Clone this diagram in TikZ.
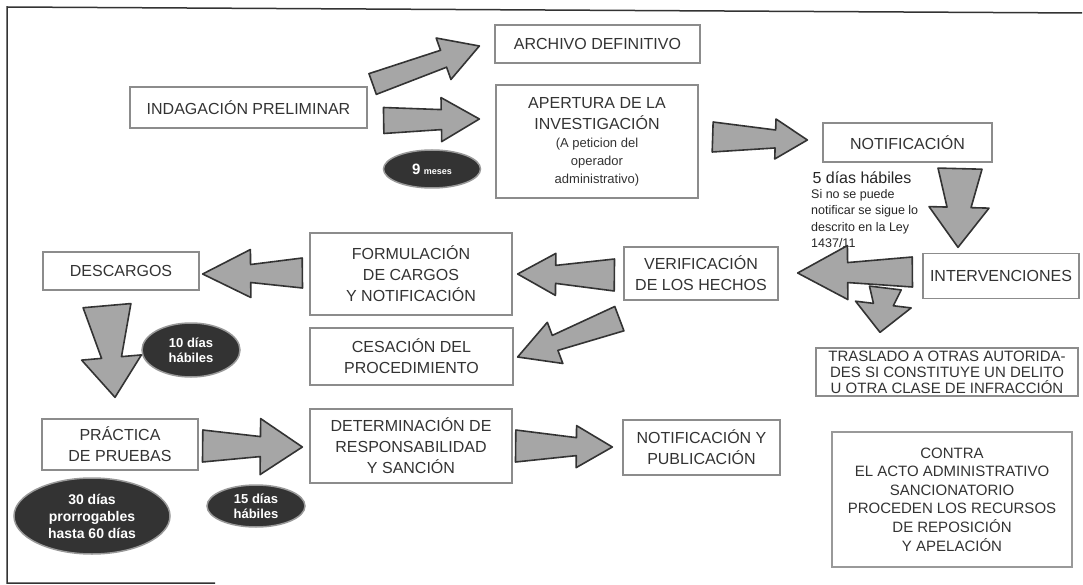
\documentclass[tikz,border=0pt]{standalone}
\usepackage{fontspec}
\setmainfont{Liberation Sans}
\usetikzlibrary{calc,shapes.geometric}

\tikzset{
  caja/.style={draw=black!45, line width=1.3pt, fill=white, align=center,
    text=black!80, font=\fontsize{16}{21}\selectfont, inner sep=0pt},
  ovalo/.style={ellipse, draw=black!40, line width=1.5pt, fill=black!80,
    text=white, font=\bfseries\fontsize{13}{15}\selectfont, align=center, inner sep=0pt},
  flecha/.style={fill=black!35, draw=black!80, line width=1.6pt, line join=round},
}

\newcommand{\bloque}[6]{%
  \coordinate (hb) at ($(#2)!#6!(#1)$);
  \filldraw[flecha] ($(#1)!#3!90:(#2)$) -- ($(hb)!#4!-90:(#1)$) -- ($(hb)!#5!-90:(#1)$)
    -- (#2) -- ($(hb)!#5!90:(#1)$) -- ($(hb)!#4!90:(#1)$) -- ($(#1)!#3!-90:(#2)$) -- cycle;
}

\begin{document}
\begin{tikzpicture}[x=1pt,y=-1pt]
  \useasboundingbox (0,0) rectangle (1083,585);
  \draw[black!80, line width=1.5pt] (1082,13) -- (7,7) -- (7,583) -- (215,583);

  \node[caja, minimum width=237pt, minimum height=41pt] (indag) at (248.5,107.5) {INDAGACIÓN PRELIMINAR};
  \node[caja, minimum width=205pt, minimum height=38pt] (archivo) at (597.5,44) {ARCHIVO DEFINITIVO};
  \node[caja, minimum width=202pt, minimum height=113pt] (apertura) at (597,141.5)
    {APERTURA DE LA\\INVESTIGACIÓN\\[-3pt]
     {\fontsize{13}{17}\selectfont (A peticion del}\\[-3pt]
     {\fontsize{13}{17}\selectfont operador}\\[-3pt]
     {\fontsize{13}{17}\selectfont administrativo)}};
  \node[caja, minimum width=169pt, minimum height=39pt] (notif) at (907.5,142.5) {NOTIFICACIÓN};
  \node[caja, minimum width=156pt, minimum height=45pt] (interv) at (1001,276) {INTERVENCIONES};
  \node[caja, minimum width=154pt, minimum height=53pt] (verif) at (701,273.5) {VERIFICACIÓN\\DE LOS HECHOS};
  \node[caja, minimum width=202pt, minimum height=82pt] (formul) at (411,274) {FORMULACIÓN\\DE CARGOS\\Y NOTIFICACIÓN};
  \node[caja, minimum width=203pt, minimum height=57pt] (cesac) at (411.5,356.5) {CESACIÓN DEL\\PROCEDIMIENTO};
  \node[caja, minimum width=156pt, minimum height=38pt] (descargos) at (121,271) {DESCARGOS};
  \node[caja, minimum width=156pt, minimum height=51pt] (practica) at (120,444.5) {PRÁCTICA\\DE PRUEBAS};
  \node[caja, minimum width=202pt, minimum height=74pt] (determ) at (411,446) {DETERMINACIÓN DE\\RESPONSABILIDAD\\Y SANCIÓN};
  \node[caja, minimum width=157pt, minimum height=55pt] (notifpub) at (701.5,447.5) {NOTIFICACIÓN Y\\PUBLICACIÓN};
  \node[caja, minimum width=262pt, minimum height=48pt, font=\fontsize{15}{16}\selectfont] (traslado) at (947,372)
    {TRASLADO A OTRAS AUTORIDA-\\DES SI CONSTITUYE UN DELITO\\U OTRA CLASE DE INFRACCIÓN};
  \node[caja, minimum width=240pt, minimum height=135pt, line width=2.6pt, draw=black!40,
    font=\fontsize{15}{18.6}\selectfont] (contra) at (952,499.5)
    {CONTRA\\EL ACTO ADMINISTRATIVO\\SANCIONATORIO\\PROCEDEN LOS RECURSOS\\DE REPOSICIÓN\\Y APELACIÓN};

  \node[anchor=west, text=black!85, font=\fontsize{16}{18}\selectfont] (plazo) at (809,178) {5 días hábiles};
  \node[anchor=north west, align=left, text=black!85, inner sep=0pt,
    font=\fontsize{12.5}{16.5}\selectfont] (nota) at (811,189)
    {Si no se puede\\notificar se sigue lo\\descrito en la Ley\\1437/11};

  \node[ovalo, minimum width=97pt, minimum height=38pt] (meses) at (432,169)
    {{\fontsize{15}{15}\selectfont 9} {\fontsize{9}{9}\selectfont meses}};
  \node[ovalo, minimum width=98pt, minimum height=54pt] (diez) at (191,350) {10 días\\hábiles};
  \node[ovalo, minimum width=156pt, minimum height=76pt, font=\bfseries\fontsize{14}{17}\selectfont] (treinta) at (92,516)
    {30 días\\prorrogables\\hasta 60 días};
  \node[ovalo, minimum width=98pt, minimum height=42pt] (quince) at (256,506) {15 días\\hábiles};

  \coordinate (a1s) at ($(indag.east)+(5,-23.5)$);
  \coordinate (a1e) at ($(archivo.west)+(-15,2)$);
  \coordinate (a2s) at ($(indag.east)+(16,13)$);
  \coordinate (a2e) at ($(apertura.west)+(-16,-22.5)$);
  \coordinate (a3s) at ($(apertura.east)+(14,-4.5)$);
  \coordinate (a3e) at ($(notif.west)+(-15,-2.5)$);
  \coordinate (a4s) at ($(notif.south)+(52.5,6)$);
  \coordinate (a4e) at ($(interv.north)+(-43,-5.5)$);
  \coordinate (a5s) at ($(interv.west)+(-10,-4)$);
  \coordinate (a5e) at ($(verif.east)+(19,-0.5)$);
  \coordinate (a6s) at ($(interv.west)+(-37,12)$);
  \coordinate (a6e) at ($(traslado.north)+(-67,-15)$);
  \coordinate (a7s) at ($(verif.west)+(-9,1.5)$);
  \coordinate (a7e) at ($(formul.east)+(5,0)$);
  \coordinate (a8s) at ($(verif.south west)+(-4,18)$);
  \coordinate (a8e) at ($(cesac.east)+(4,0.5)$);
  \coordinate (a9s) at ($(formul.west)+(-7,-1)$);
  \coordinate (a9e) at ($(descargos.east)+(3,3)$);
  \coordinate (a10s) at ($(descargos.south)+(-14,15)$);
  \coordinate (a10e) at ($(practica.north)+(-5,-21)$);
  \coordinate (a11s) at ($(practica.east)+(4,1.5)$);
  \coordinate (a11e) at ($(determ.west)+(-7,1)$);
  \coordinate (a12s) at ($(determ.east)+(3,0)$);
  \coordinate (a12e) at ($(notifpub.west)+(-10,-0.5)$);

  \bloque{a1s}{a1e}{11pt}{9pt}{22pt}{38pt}
  \bloque{a2s}{a2e}{13pt}{10pt}{22pt}{38pt}
  \bloque{a3s}{a3e}{15pt}{9pt}{20pt}{32pt}
  \bloque{a4s}{a4e}{22pt}{12pt}{30pt}{40pt}
  \bloque{a5s}{a5e}{15pt}{10pt}{27pt}{50pt}
  \bloque{a6s}{a6e}{16pt}{10pt}{28pt}{28pt}
  \bloque{a7s}{a7e}{16pt}{9pt}{21pt}{38pt}
  \bloque{a8s}{a8e}{13pt}{8pt}{22pt}{40pt}
  \bloque{a9s}{a9e}{15pt}{9pt}{24pt}{48pt}
  \bloque{a10s}{a10e}{24pt}{10pt}{30pt}{40pt}
  \bloque{a11s}{a11e}{16pt}{10pt}{28pt}{42pt}
  \bloque{a12s}{a12e}{16pt}{9pt}{21pt}{36pt}
\end{tikzpicture}
\end{document}
